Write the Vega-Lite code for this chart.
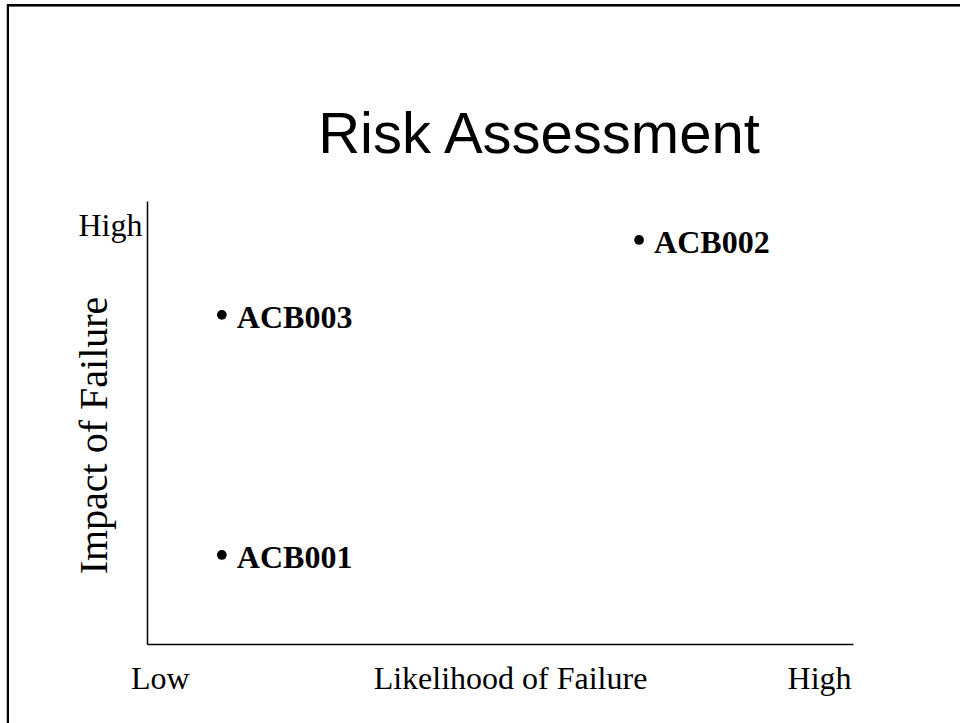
{
  "$schema": "https://vega.github.io/schema/vega-lite/v6.json",
  "autosize": {"type": "none"},
  "padding": {"left": 147, "top": 201, "right": 107, "bottom": 79},
  "width": 706,
  "height": 443,
  "background": "white",
  "title": {
    "text": "Risk Assessment",
    "font": "Liberation Sans",
    "fontSize": 58,
    "fontWeight": "normal",
    "color": "black",
    "anchor": "middle",
    "frame": "group",
    "dx": 39,
    "baseline": "alphabetic",
    "offset": -207
  },
  "config": {
    "view": {"stroke": null},
    "axis": {"grid": false}
  },
  "data": {
    "values": [
      {"risk": "ACB001", "likelihood": 10.6, "impact": 20.1},
      {"risk": "ACB002", "likelihood": 69.7, "impact": 91.2},
      {"risk": "ACB003", "likelihood": 10.6, "impact": 74.3}
    ]
  },
  "layer": [
    {
      "mark": {"type": "rect", "fill": null, "stroke": "black", "strokeWidth": 2, "clip": false},
      "encoding": {
        "x": {"datum": -19.7, "type": "quantitative"},
        "x2": {"datum": 125},
        "y": {"datum": 144.2, "type": "quantitative"},
        "y2": {"datum": -22}
      }
    },
    {
      "mark": {"type": "point", "shape": "circle", "filled": true, "color": "black", "opacity": 1, "size": 95},
      "encoding": {
        "x": {
          "field": "likelihood",
          "type": "quantitative",
          "scale": {"domain": [0, 100], "nice": false, "zero": false},
          "axis": {
            "values": [1.8, 95.2],
            "labelExpr": "datum.value < 50 ? 'Low' : 'High'",
            "labelFont": "Liberation Serif",
            "labelFontSize": 32,
            "labelColor": "black",
            "labelAlign": "center",
            "labelBaseline": "alphabetic",
            "labelPadding": 44,
            "labelOverlap": false,
            "labelFlush": false,
            "labelBound": false,
            "ticks": false,
            "tickSize": 0,
            "domainColor": "black",
            "domainWidth": 1.5,
            "title": "Likelihood of Failure",
            "titleFont": "Liberation Serif",
            "titleFontSize": 32,
            "titleFontWeight": "normal",
            "titleColor": "black",
            "titleX": 363,
            "titleY": 44,
            "titleAlign": "center",
            "titleBaseline": "alphabetic"
          }
        },
        "y": {
          "field": "impact",
          "type": "quantitative",
          "scale": {"domain": [0, 100], "nice": false, "zero": false},
          "axis": {
            "values": [92.3],
            "labelExpr": "'High'",
            "labelFont": "Liberation Serif",
            "labelFontSize": 32,
            "labelColor": "black",
            "labelAlign": "right",
            "labelBaseline": "alphabetic",
            "labelPadding": 5,
            "labelOverlap": false,
            "labelFlush": false,
            "labelBound": false,
            "ticks": false,
            "tickSize": 0,
            "domainColor": "black",
            "domainWidth": 1.5,
            "title": "Impact of Failure",
            "titleFont": "Liberation Serif",
            "titleFontSize": 40,
            "titleFontWeight": "normal",
            "titleColor": "black",
            "titleAngle": -90,
            "titleX": -41,
            "titleY": 234,
            "titleAlign": "center",
            "titleBaseline": "alphabetic"
          }
        }
      }
    },
    {
      "mark": {
        "type": "text",
        "align": "left",
        "baseline": "alphabetic",
        "dx": 15,
        "dy": 13,
        "font": "Liberation Serif",
        "fontSize": 32,
        "fontWeight": "bold",
        "color": "black"
      },
      "encoding": {
        "x": {"field": "likelihood", "type": "quantitative"},
        "y": {"field": "impact", "type": "quantitative"},
        "text": {"field": "risk"}
      }
    }
  ]
}
